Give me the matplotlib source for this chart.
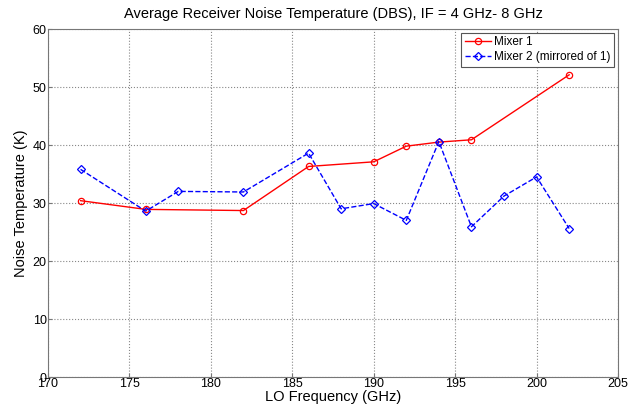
import numpy as np
import matplotlib.pyplot as plt

plt.rcParams['font.family'] = ['Liberation Sans', 'DejaVu Sans']

# Mixer 1 data
freq1 = [172, 176, 182, 186, 190, 192, 194, 196, 202]
temp1 = [30.4, 28.9, 28.7, 36.3, 37.1, 39.8, 40.5, 40.9, 52.1]

# Mixer 2 data
freq2 = [172, 176, 178, 182, 186, 188, 190, 192, 194, 196, 198, 200, 202]
temp2 = [35.8, 28.6, 32.0, 31.9, 38.6, 29.0, 29.9, 27.0, 40.6, 25.9, 31.2, 34.5, 25.6]

fig = plt.figure(figsize=(6.38, 4.07), dpi=100)
ax = fig.add_axes([48 / 638, 30 / 407, 570 / 638, 348 / 407])

ax.plot(freq1, temp1, '-o', color='red', lw=1.0, ms=4.5, mfc='none', mew=0.9,
        label='Mixer 1')
ax.plot(freq2, temp2, '--D', color='blue', lw=1.0, ms=4, mfc='none', mew=0.9,
        label='Mixer 2 (mirrored of 1)')

ax.set_xlim(170, 205)
ax.set_ylim(0, 60)
ax.set_xticks(np.arange(170, 206, 5))
ax.set_yticks(np.arange(0, 61, 10))
ax.tick_params(labelsize=9, length=3, direction='in', color='#777777', pad=1)
ax.grid(True, linestyle=':', color='#888888', lw=0.8)
for s in ax.spines.values():
    s.set_color('#777777')

ax.set_xlabel('LO Frequency (GHz)', fontsize=10.5, labelpad=0)
ax.set_ylabel('Noise Temperature (K)', fontsize=10.5, labelpad=3)
ax.set_title('Average Receiver Noise Temperature (DBS), IF = 4 GHz- 8 GHz',
             fontsize=10.5, pad=8)

leg = ax.legend(loc='upper right', fontsize=8.5, fancybox=False, framealpha=1,
                edgecolor='#555555', borderaxespad=0.3, handlelength=2.2,
                handletextpad=0.3, borderpad=0.3, labelspacing=0.25)
leg.get_frame().set_linewidth(0.8)

fig.savefig('out.png', dpi=100)
